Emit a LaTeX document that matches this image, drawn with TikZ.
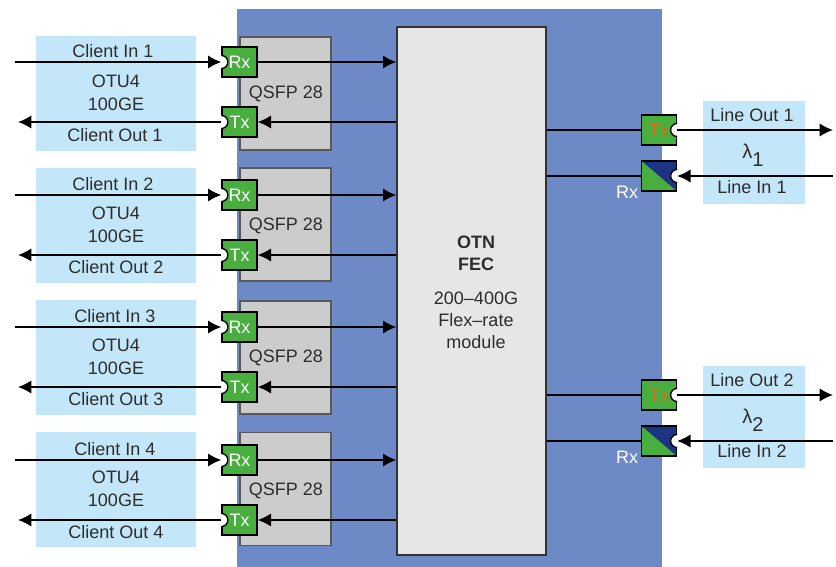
\documentclass[tikz,border=0pt]{standalone}
\usepackage{fontspec}
\setmainfont{Liberation Sans}
\usetikzlibrary{arrows.meta}
\definecolor{cardblue}{RGB}{110,138,198}
\definecolor{clientblue}{RGB}{195,230,249}
\definecolor{qsfpgray}{RGB}{204,204,204}
\definecolor{modulegray}{RGB}{230,230,230}
\definecolor{portgreen}{RGB}{72,174,62}
\definecolor{portnavy}{RGB}{28,52,130}
\definecolor{labelgray}{RGB}{45,45,45}
\definecolor{txorange}{RGB}{225,105,30}
\tikzset{
  boxtext/.style={inner sep=0pt,text=labelgray,font=\fontsize{13.5}{15}\selectfont},
  clientbox/.style={fill=clientblue,minimum width=120pt,minimum height=86.25pt,inner sep=0pt},
  linebox/.style={fill=clientblue,minimum width=76.5pt,minimum height=76.5pt,inner sep=0pt},
  qsfpbox/.style={fill=qsfpgray,draw=black!65,line width=0.8pt,minimum width=68.25pt,minimum height=84.75pt,inner sep=0pt},
  portbox/.style={fill=portgreen,draw=black,line width=1pt,minimum width=26.25pt,minimum height=22.5pt,inner sep=0pt,text=white,font=\fontsize{13.5}{15}\selectfont},
  signal/.style={line width=1.25pt},
  sigarrow/.style={line width=1.25pt,-{Latex[length=10pt,width=10pt]}},
}
% bite taken out of a port, on its west or east side
\newcommand{\notchwest}[1]{%
  \fill[white] ([shift={(-1.5,-6.5)}]#1.west) rectangle ([shift={(0.5,6.5)}]#1.west);
  \draw[fill=white,line width=1pt] ([yshift=-4.9pt]#1.west) arc (-90:90:4.9pt);}
\newcommand{\notcheast}[1]{%
  \fill[white] ([shift={(1.5,-6.5)}]#1.east) rectangle ([shift={(-0.5,6.5)}]#1.east);
  \draw[fill=white,line width=1pt] ([yshift=-4.9pt]#1.east) arc (270:90:4.9pt);}
\begin{document}
\begin{tikzpicture}[x=0.75pt,y=0.75pt,yscale=-1,xscale=1]
\useasboundingbox (0,0) rectangle (836,567);

%Card background
\fill[cardblue] (237,9) rectangle (662,567);

%Client boxes
\node[clientbox] (clienta) at (116,93.5) {};
\node[clientbox] (clientb) at (116,225) {};
\node[clientbox] (clientc) at (116,357.5) {};
\node[clientbox] (clientd) at (116,489.5) {};
%Line boxes
\node[linebox] (linea) at (754,152.5) {};
\node[linebox] (lineb) at (754,417) {};

%QSFP boxes
\node[qsfpbox] (qsfpa) at (285.5,93.5) {};
\node[qsfpbox] (qsfpb) at (285.5,224.5) {};
\node[qsfpbox] (qsfpc) at (285.5,357.5) {};
\node[qsfpbox] (qsfpd) at (285.5,489) {};
%Module
\node[fill=modulegray,draw=black!80,line width=1pt,minimum width=111.75pt,minimum height=396pt,inner sep=0pt] (otn) at (471.5,291) {};

%Client ports
\node[portbox] (rxa) at (239.5,62) {Rx};
\node[portbox] (txa) at (239.5,122) {Tx};
\node[portbox] (rxb) at (239.5,195) {Rx};
\node[portbox] (txb) at (239.5,255) {Tx};
\node[portbox] (rxc) at (239.5,327) {Rx};
\node[portbox] (txc) at (239.5,387) {Tx};
\node[portbox] (rxd) at (239.5,460) {Rx};
\node[portbox] (txd) at (239.5,520) {Tx};
\notchwest{rxa} \notchwest{txa}
\notchwest{rxb} \notchwest{txb}
\notchwest{rxc} \notchwest{txc}
\notchwest{rxd} \notchwest{txd}

%Line ports
\node[portbox,text=txorange] (ltxa) at (659,130) {Tx};
\node[portbox,path picture={\fill[portgreen] (path picture bounding box.north west) -- (path picture bounding box.south east) -- (path picture bounding box.south west) -- cycle;},fill=portnavy] (lrxa) at (659,176) {};
\node[portbox,text=txorange] (ltxb) at (659,395) {Tx};
\node[portbox,path picture={\fill[portgreen] (path picture bounding box.north west) -- (path picture bounding box.south east) -- (path picture bounding box.south west) -- cycle;},fill=portnavy] (lrxb) at (659,441) {};
\notcheast{ltxa} \notcheast{lrxa}
\notcheast{ltxb} \notcheast{lrxb}

%Free ends
\coordinate (cina) at (15,62);
\coordinate (couta) at (18,122);
\coordinate (cinb) at (15,195);
\coordinate (coutb) at (18,255);
\coordinate (cinc) at (15,327);
\coordinate (coutc) at (18,387);
\coordinate (cind) at (15,460);
\coordinate (coutd) at (18,520);
\coordinate (louta) at (833,130);
\coordinate (lina) at (833,176);
\coordinate (loutb) at (833,395);
\coordinate (linb) at (833,441);

%Straight Lines, client side
\draw[sigarrow] (cina) -- (rxa.west);
\draw[sigarrow] (txa.west) -- (couta);
\draw[sigarrow] (rxa.east) -- (rxa.east -| otn.west);
\draw[sigarrow] (txa.east -| otn.west) -- (txa.east);
\draw[sigarrow] (cinb) -- (rxb.west);
\draw[sigarrow] (txb.west) -- (coutb);
\draw[sigarrow] (rxb.east) -- (rxb.east -| otn.west);
\draw[sigarrow] (txb.east -| otn.west) -- (txb.east);
\draw[sigarrow] (cinc) -- (rxc.west);
\draw[sigarrow] (txc.west) -- (coutc);
\draw[sigarrow] (rxc.east) -- (rxc.east -| otn.west);
\draw[sigarrow] (txc.east -| otn.west) -- (txc.east);
\draw[sigarrow] (cind) -- (rxd.west);
\draw[sigarrow] (txd.west) -- (coutd);
\draw[sigarrow] (rxd.east) -- (rxd.east -| otn.west);
\draw[sigarrow] (txd.east -| otn.west) -- (txd.east);

%Straight Lines, line side
\draw[signal] (ltxa.west -| otn.east) -- (ltxa.west);
\draw[signal] (lrxa.west -| otn.east) -- (lrxa.west);
\draw[sigarrow] (ltxa.east) -- (louta);
\draw[sigarrow] (lina) -- (lrxa.east);
\draw[signal] (ltxb.west -| otn.east) -- (ltxb.west);
\draw[signal] (lrxb.west -| otn.east) -- (lrxb.west);
\draw[sigarrow] (ltxb.east) -- (loutb);
\draw[sigarrow] (linb) -- (lrxb.east);

% Text Node
\node[boxtext] (cinlabela) at (113,51) {Client In 1};
\node[boxtext,align=center] (ratea) at (116,93) {OTU4\\[2pt]100GE};
\node[boxtext] (coutlabela) at (115,135) {Client Out 1};
\node[boxtext] (cinlabelb) at (113,184) {Client In 2};
\node[boxtext,align=center] (rateb) at (116,225) {OTU4\\[2pt]100GE};
\node[boxtext] (coutlabelb) at (116,267) {Client Out 2};
\node[boxtext] (cinlabelc) at (115,316) {Client In 3};
\node[boxtext,align=center] (ratec) at (116,357) {OTU4\\[2pt]100GE};
\node[boxtext] (coutlabelc) at (116,399) {Client Out 3};
\node[boxtext] (cinlabeld) at (115,449) {Client In 4};
\node[boxtext,align=center] (rated) at (116,489) {OTU4\\[2pt]100GE};
\node[boxtext] (coutlabeld) at (116,532) {Client Out 4};
% Text Node
\node[boxtext] (qsfplabela) at (286,94) {QSFP 28};
\node[boxtext] (qsfplabelb) at (286,226) {QSFP 28};
\node[boxtext] (qsfplabelc) at (286,358) {QSFP 28};
\node[boxtext] (qsfplabeld) at (286,491) {QSFP 28};
% Text Node
\node[boxtext,align=center,font=\fontsize{13.5}{16.5}\selectfont\bfseries] (otnlabel) at (476,253) {OTN\\FEC};
\node[boxtext,align=center,font=\fontsize{13.5}{16.5}\selectfont] (ratelabel) at (476,320) {200–400G\\Flex–rate\\module};
% Text Node
\node[boxtext] (loutlabela) at (752,115) {Line Out 1};
\node[boxtext] (linlabela) at (752,187) {Line In 1};
\node[boxtext,font=\fontsize{15}{17}\selectfont] (lambdaa) at (753,155) {λ\raisebox{-6pt}{1}};
\node[boxtext] (loutlabelb) at (752,380) {Line Out 2};
\node[boxtext] (linlabelb) at (752,451) {Line In 2};
\node[boxtext,font=\fontsize{15}{17}\selectfont] (lambdab) at (753,420) {λ\raisebox{-6pt}{2}};
% Text Node
\node[boxtext,text=white] (rxlabela) at (627,192) {Rx};
\node[boxtext,text=white] (rxlabelb) at (627,457) {Rx};
\end{tikzpicture}
\end{document}
